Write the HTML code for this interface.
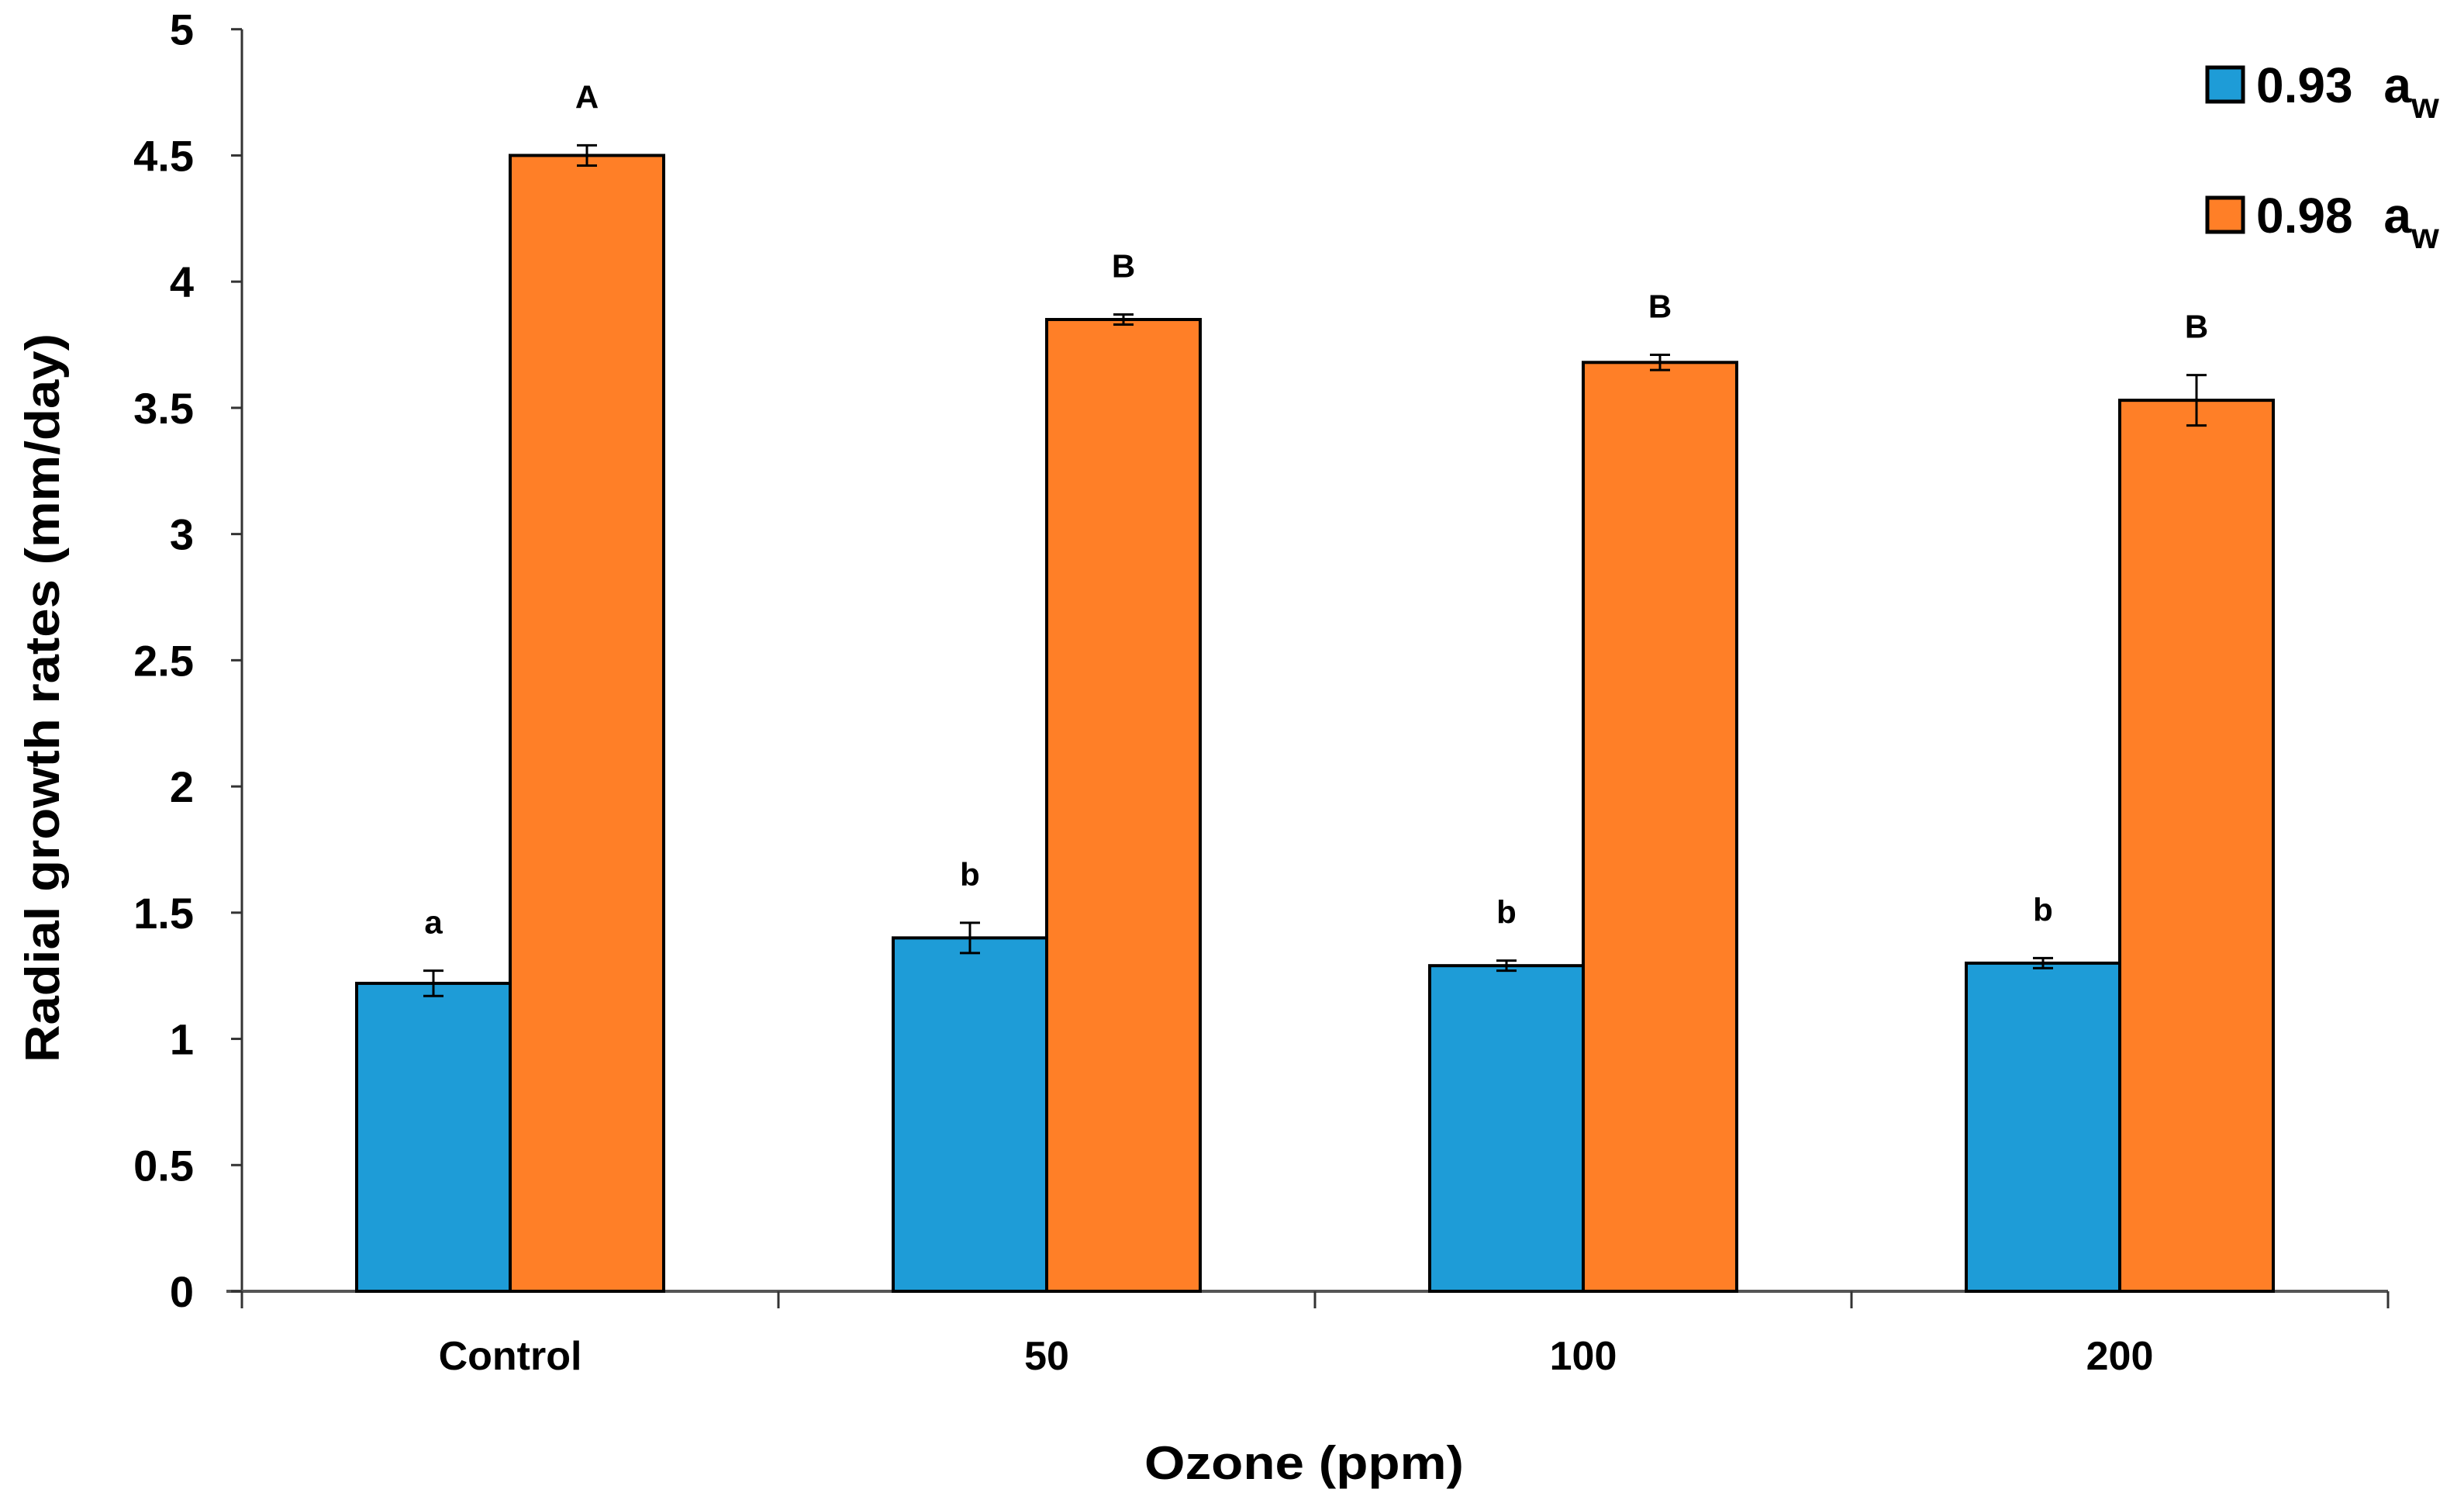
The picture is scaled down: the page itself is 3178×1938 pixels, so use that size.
<!DOCTYPE html>
<html><head><meta charset="utf-8"><style>
html,body{margin:0;padding:0;background:#fff;}
svg{display:block;font-family:"Liberation Sans",sans-serif;font-weight:bold;}
</style></head><body>
<svg id="chart" width="3178" height="1938" viewBox="0 0 3178 1938" xmlns="http://www.w3.org/2000/svg">
<g id="axes"></g><g id="bars"></g><g id="labels"></g>
<text transform="translate(76,900) rotate(-90)" text-anchor="middle" font-size="62" textLength="940" lengthAdjust="spacingAndGlyphs">Radial growth rates (mm/day)</text>
<text x="1682" y="1907" text-anchor="middle" font-size="60" textLength="412" lengthAdjust="spacingAndGlyphs">Ozone (ppm)</text>
<g>
<rect x="2847" y="87" width="46" height="44" fill="#1E9CD7" stroke="#000" stroke-width="5"/>
<text x="2910" y="132" font-size="64">0.93 <tspan dx="22">a</tspan><tspan font-size="46" dy="20">w</tspan></text>
<rect x="2847" y="255" width="46" height="44" fill="#FF7F27" stroke="#000" stroke-width="5"/>
<text x="2910" y="300" font-size="64">0.98 <tspan dx="22">a</tspan><tspan font-size="46" dy="20">w</tspan></text>
</g>
</svg>
<script>
const categories=["Control","50","100","200"];
const blueValues=[1.22,1.40,1.29,1.30];
const orangeValues=[4.50,3.85,3.68,3.53];
const blueErrors=[0.05,0.06,0.02,0.02];
const orangeErrors=[0.04,0.02,0.03,0.10];
const blueLetters=["a","b","b","b"];
const orangeLetters=["A","B","B","B"];
const yTicks=[0,0.5,1,1.5,2,2.5,3,3.5,4,4.5,5];
const yTickLabels=["0","0.5","1","1.5","2","2.5","3","3.5","4","4.5","5"];

const NS="http://www.w3.org/2000/svg";
const X0=312,X1=3080,Y0=1665,Y5=37.7,YMAX=5;
const catW=(X1-X0)/categories.length, barW=198;
function y(v){return Y0-(v/YMAX)*(Y0-Y5);}
function xc(i){return X0+catW*(i+0.5);}
function mk(tag,attrs,parent){const e=document.createElementNS(NS,tag);for(const k in attrs)e.setAttribute(k,attrs[k]);parent.appendChild(e);return e;}
const axes=document.getElementById('axes'),bars=document.getElementById('bars'),labels=document.getElementById('labels');

let e=mk('line',{x1:X0,y1:Y5,x2:X0,y2:Y0,stroke:'#333','stroke-width':3},axes);


e=mk('line',{x1:X0-20,y1:Y0,x2:X1,y2:Y0,stroke:'#555','stroke-width':4},axes);


yTicks.forEach((t,i)=>{
  const tk=mk('line',{x1:X0-14,y1:y(t),x2:X0,y2:y(t),stroke:'#333','stroke-width':3},axes);
  
  
  const tl=mk('text',{x:250,y:y(t)+20,'text-anchor':'end','font-size':56},axes);
  tl.textContent=yTickLabels[i];
  
  
});
for(let i=0;i<=categories.length;i++){
  const tk=mk('line',{x1:X0+catW*i,y1:Y0,x2:X0+catW*i,y2:Y0+22,stroke:'#333','stroke-width':3},axes);
  
  
}
function errBar(cx,v,err){
  const g=mk('g',{},bars);
  
  
  mk('line',{x1:cx,y1:y(v+err),x2:cx,y2:y(v-err),stroke:'#000','stroke-width':3},g);
  mk('line',{x1:cx-13,y1:y(v+err),x2:cx+13,y2:y(v+err),stroke:'#000','stroke-width':3},g);
  mk('line',{x1:cx-13,y1:y(v-err),x2:cx+13,y2:y(v-err),stroke:'#000','stroke-width':3},g);
}
categories.forEach((c,i)=>{
  const cx=xc(i);
  const b=mk('rect',{x:cx-barW,y:y(blueValues[i]),width:barW,height:Y0-y(blueValues[i]),fill:'#1E9CD7',stroke:'#000','stroke-width':4},bars);
  
  
  const o=mk('rect',{x:cx,y:y(orangeValues[i]),width:barW,height:Y0-y(orangeValues[i]),fill:'#FF7F27',stroke:'#000','stroke-width':4},bars);
  
  
  errBar(cx-barW/2,blueValues[i],blueErrors[i]);
  errBar(cx+barW/2,orangeValues[i],orangeErrors[i]);
  const bl=mk('text',{x:cx-barW/2,y:y(blueValues[i]+blueErrors[i])-48,'text-anchor':'middle','font-size':42},labels);
  bl.textContent=blueLetters[i];
  
  
  const ol=mk('text',{x:cx+barW/2,y:y(orangeValues[i]+orangeErrors[i])-48,'text-anchor':'middle','font-size':42},labels);
  ol.textContent=orangeLetters[i];
  
  
  const cl=mk('text',{x:cx,y:1766,'text-anchor':'middle','font-size':52},labels);
  cl.textContent=c;
  
  
});
</script>
</body></html>
